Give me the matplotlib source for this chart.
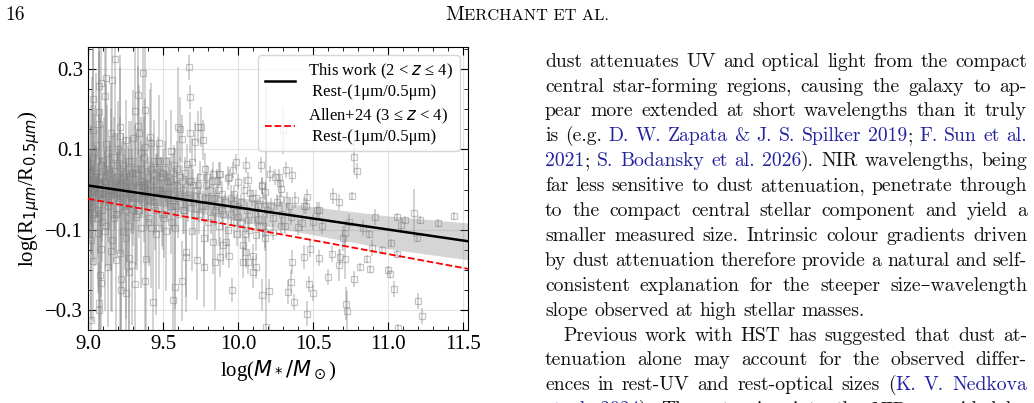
import matplotlib
matplotlib.use("Agg")
import matplotlib.pyplot as plt
from matplotlib.ticker import MultipleLocator, FixedLocator

# ---- galaxies: stellar mass, size ratio, error ----
mass = [9.01, 9.02, 9.02, 9.03, 9.03, 9.03, 9.02, 9.02, 9.04, 9.04, 9.05, 9.05, 9.06, 9.064, 9.07,
        9.075, 9.075, 9.075, 9.075, 9.075, 9.08, 9.086, 9.086, 9.086, 9.09, 9.09, 9.10, 9.10,
        9.11, 9.115, 9.12, 9.12, 9.12, 9.13, 9.13, 9.14, 9.15, 9.152, 9.16, 9.163, 9.16, 9.17, 9.17,
        9.18, 9.185, 9.19, 9.19, 9.20,
        9.21, 9.21, 9.21, 9.22, 9.22, 9.22, 9.23, 9.23, 9.24, 9.25, 9.25, 9.25, 9.26, 9.27, 9.27,
        9.27, 9.28, 9.29, 9.296, 9.30, 9.30,
        9.31, 9.31, 9.32, 9.33, 9.33, 9.34, 9.34, 9.35, 9.35, 9.36, 9.366, 9.37, 9.38, 9.38, 9.385,
        9.38, 9.39, 9.39, 9.40,
        9.41, 9.42, 9.42, 9.43, 9.43, 9.44, 9.44, 9.455, 9.46, 9.47, 9.47, 9.48, 9.49, 9.50,
        9.52, 9.52, 9.53, 9.54, 9.55, 9.56, 9.565, 9.57, 9.578, 9.58, 9.59, 9.60, 9.60,
        9.61, 9.627, 9.627, 9.63, 9.64, 9.65, 9.653, 9.66, 9.67, 9.675, 9.68, 9.68, 9.69, 9.69, 9.70,
        9.71, 9.726, 9.73, 9.73, 9.74, 9.755, 9.768, 9.77, 9.77, 9.78, 9.78, 9.79, 9.80,
        9.81, 9.83, 9.83, 9.846, 9.85, 9.86, 9.874, 9.88, 9.88, 9.89, 9.90, 9.90,
        9.92, 9.93, 9.94, 9.94, 9.95, 9.96, 9.966, 9.966, 9.97, 9.985, 9.99, 10.0, 10.0,
        10.03, 10.03, 10.044, 10.05, 10.05, 10.066, 10.066, 10.066, 10.08, 10.1, 10.1,
        10.117, 10.117, 10.117, 10.13, 10.15, 10.157, 10.16, 10.16, 10.166, 10.166, 10.177, 10.18,
        10.18, 10.187,
        10.205, 10.21, 10.22, 10.23, 10.245, 10.27, 10.275, 10.275, 10.287, 10.287, 10.3,
        10.315, 10.325, 10.33, 10.35, 10.35, 10.36, 10.36, 10.37, 10.38, 10.40,
        10.426, 10.44, 10.44, 10.45, 10.46, 10.46, 10.47, 10.475, 10.5, 10.5,
        10.525, 10.536, 10.536, 10.56, 10.6, 10.625, 10.634, 10.67, 10.67, 10.68,
        10.70, 10.71, 10.71, 10.72, 10.725, 10.735, 10.76, 10.77, 10.77, 10.79, 10.81, 10.83, 10.86,
        10.87, 10.875, 10.89,
        10.91, 10.955, 10.995, 11.01, 11.02, 11.04, 11.055, 11.055, 11.065, 11.085, 11.11, 11.17,
        11.19, 11.195, 11.21, 11.225, 11.33, 11.44]
ratio = [0.02, -0.04, 0.06, 0.225, 0.147, -0.179, -0.126, -0.325, 0.0, 0.09, -0.02, 0.04, -0.07, -0.109, 0.01,
         0.192, 0.163, 0.257, -0.30, -0.283, -0.213, -0.149, -0.233, 0.265, 0.03, -0.05, 0.07, -0.01,
         0.234, -0.103, 0.277, 0.114, 0.02, -0.192, -0.03, 0.05, 0.142, -0.153, 0.273, -0.126, 0.0, -0.06, 0.08,
         0.326, -0.175, 0.03, -0.02, 0.10,
         0.155, 0.134, -0.159, -0.223, -0.25, 0.01, -0.103, 0.06, -0.04, 0.124, -0.122, -0.258, 0.02, -0.171, -0.205,
         0.07, -0.01, 0.04, -0.188, 0.128, -0.05,
         0.196, -0.236, -0.068, 0.235, 0.157, 0.141, 0.01, -0.095, 0.05, -0.02, 0.289, 0.08, 0.198, 0.105, -0.173,
         -0.229, 0.0, -0.04, 0.03,
         0.13, 0.116, -0.095, -0.281, 0.02, 0.072, -0.03, -0.112, 0.05, 0.115, -0.097, 0.0, -0.06, 0.04,
         0.072, -0.103, -0.01, 0.03, 0.097, -0.04, -0.275, 0.01, -0.097, -0.244, 0.05, 0.155, -0.02,
         0.151, 0.126, -0.228, 0.0, -0.05, -0.155, -0.167, 0.064, 0.02, 0.304, 0.231, 0.142, 0.068, -0.103, -0.03,
         0.119, -0.175, 0.155, 0.01, -0.06, 0.155, 0.124, -0.122, -0.192, 0.05, -0.02, 0.03, -0.08,
         0.0, 0.039, -0.13, -0.18, -0.04, 0.02, 0.039, -0.168, 0.039, -0.01, -0.139, -0.06,
         -0.131, 0.029, 0.031, -0.166, -0.02, -0.251, 0.049, -0.035, -0.08, 0.068, -0.11, 0.018, -0.069,
         -0.18, -0.139, -0.11, 0.062, -0.156, 0.024, -0.075, -0.18, -0.009, -0.205, -0.166,
         -0.02, -0.114, -0.193, -0.073, 0.062, 0.01, 0.008, -0.263, -0.092, -0.026, -0.007, -0.122,
         -0.106, -0.342,
         -0.253, 0.039, -0.04, -0.106, 0.031, 0.032, 0.016, -0.023, 0.002, -0.092, 0.149,
         0.049, -0.026, -0.255, -0.069, -0.23, 0.035, -0.18, -0.28, -0.027, -0.094,
         -0.084, -0.041, -0.168, -0.042, -0.019, -0.309, -0.236, -0.147, -0.081, -0.259,
         -0.052, -0.05, -0.17, -0.092, -0.218, -0.16, -0.017, -0.031, -0.189, -0.168,
         -0.122, -0.108, -0.172, -0.284, -0.302, -0.081, -0.017, 0.08, -0.224, 0.046, -0.193, -0.095, -0.174,
         -0.11, -0.199, -0.145,
         -0.069, -0.15, -0.201, -0.211, -0.133, -0.247, -0.069, -0.161, -0.346, -0.089, -0.077, -0.059,
         -0.12, -0.278, -0.077, -0.315, -0.084, -0.067]
ratio_err = [0.08, 0.12, 0.15, 0.2, 0.25, 0.15, 0.2, 0.2, 0.06, 0.1, 0.05, 0.07, 0.1, 0.15, 0.04,
             0.15, 0.2, 0.25, 0.25, 0.1, 0.15, 0.12, 0.2, 0.2, 0.05, 0.08, 0.09, 0.03,
             0.2, 0.2, 0.25, 0.15, 0.06, 0.15, 0.07, 0.08, 0.12, 0.15, 0.3, 0.18, 0.05, 0.09, 0.1,
             0.22, 0.2, 0.06, 0.04, 0.12,
             0.15, 0.2, 0.2, 0.25, 0.2, 0.05, 0.15, 0.08, 0.07, 0.1, 0.2, 0.2, 0.04, 0.18, 0.2,
             0.1, 0.05, 0.06, 0.15, 0.12, 0.09,
             0.25, 0.2, 0.12, 0.15, 0.15, 0.12, 0.05, 0.15, 0.07, 0.04, 0.3, 0.1, 0.2, 0.12, 0.2,
             0.25, 0.05, 0.06, 0.05,
             0.12, 0.15, 0.15, 0.2, 0.05, 0.1, 0.06, 0.2, 0.06, 0.12, 0.15, 0.04, 0.08, 0.06,
             0.1, 0.15, 0.05, 0.05, 0.1, 0.06, 0.25, 0.04, 0.2, 0.2, 0.07, 0.15, 0.04,
             0.08, 0.06, 0.1, 0.04, 0.06, 0.15, 0.1, 0.05, 0.04, 0.03, 0.03, 0.05, 0.06, 0.1, 0.04,
             0.05, 0.1, 0.04, 0.03, 0.05, 0.05, 0.05, 0.08, 0.1, 0.04, 0.03, 0.03, 0.05,
             0.03, 0.03, 0.08, 0.12, 0.04, 0.03, 0.03, 0.05, 0.03, 0.03, 0.05, 0.04,
             0.04, 0.03, 0.02, 0.03, 0.03, 0.03, 0.02, 0.03, 0.04, 0.02, 0.03, 0.02, 0.03,
             0.04, 0.05, 0.04, 0.02, 0.04, 0.02, 0.03, 0.03, 0.02, 0.04, 0.03,
             0.02, 0.04, 0.03, 0.03, 0.02, 0.02, 0.02, 0.04, 0.03, 0.02, 0.02, 0.03,
             0.04, 0.6,
             0.03, 0.02, 0.02, 0.02, 0.02, 0.02, 0.02, 0.02, 0.02, 0.02, 0.06,
             0.02, 0.02, 0.03, 0.02, 0.03, 0.02, 0.03, 0.02, 0.02, 0.02,
             0.02, 0.02, 0.03, 0.02, 0.02, 0.03, 0.02, 0.02, 0.02, 0.02,
             0.02, 0.02, 0.02, 0.02, 0.02, 0.02, 0.02, 0.02, 0.04, 0.02,
             0.03, 0.03, 0.05, 0.04, 0.05, 0.02, 0.01, 0.04, 0.02, 0.02, 0.01, 0.02, 0.01,
             0.01, 0.01, 0.02,
             0.02, 0.01, 0.01, 0.01, 0.01, 0.02, 0.01, 0.01, 0.01, 0.02, 0.01, 0.06,
             0.01, 0.02, 0.01, 0.02, 0.01, 0.01]

# dense low-mass cloud around the relation
cloud_mass = [9.005, 9.015, 9.025, 9.035, 9.045, 9.055, 9.065, 9.085, 9.095, 9.105, 9.125, 9.135,
              9.145, 9.155, 9.175, 9.195, 9.205, 9.215, 9.235, 9.245, 9.255, 9.265, 9.275, 9.285,
              9.305, 9.315, 9.325, 9.345, 9.355, 9.375, 9.395, 9.405, 9.415, 9.435, 9.445, 9.465,
              9.485, 9.495, 9.505, 9.515, 9.535, 9.545, 9.555, 9.575, 9.585, 9.595, 9.615, 9.635,
              9.645, 9.665, 9.685, 9.705, 9.725, 9.745, 9.765, 9.785, 9.805, 9.825, 9.845, 9.865,
              9.008, 9.018, 9.028, 9.048, 9.058, 9.068, 9.078, 9.098, 9.108, 9.118, 9.138, 9.148,
              9.168, 9.178, 9.188, 9.198, 9.228, 9.238, 9.258, 9.268, 9.288, 9.298, 9.318, 9.338,
              9.358, 9.378, 9.398, 9.418, 9.438, 9.458, 9.478, 9.498, 9.528, 9.548, 9.568, 9.598,
              9.628, 9.658, 9.698, 9.738,
              9.82, 9.84, 9.87, 9.89, 9.91, 9.93, 9.95, 9.97, 9.99, 10.01, 10.02, 10.04, 10.06,
              10.07, 10.09, 10.11, 10.13, 10.14, 10.19, 10.23, 10.26, 10.29, 10.31, 10.34]
cloud_ratio = [0.05, -0.02, 0.08, -0.06, 0.03, 0.11, -0.01, 0.06, -0.08, 0.02, 0.09, -0.04,
               0.04, 0.00, -0.07, 0.06, -0.03, 0.08, 0.01, -0.05, 0.04, -0.09, 0.03, 0.07,
               -0.02, 0.05, -0.06, 0.02, 0.09, -0.03, 0.06, -0.07, 0.01, 0.04, -0.05, 0.07,
               -0.01, 0.03, -0.06, 0.05, -0.02, 0.02, -0.08, 0.06, -0.04, 0.01, 0.03, -0.05,
               0.04, -0.03, 0.02, -0.06, 0.00, 0.03, -0.04, 0.01, -0.02, 0.02, -0.05, 0.0,
               -0.03, 0.04, -0.07, 0.01, 0.07, -0.05, 0.03, -0.02, 0.05, -0.09, 0.00, -0.04,
               0.06, 0.02, -0.06, 0.04, -0.02, 0.03, -0.07, 0.05, 0.01, -0.03, 0.04, -0.05,
               0.02, -0.01, -0.08, 0.05, -0.04, 0.00, 0.03, -0.07, 0.02, -0.04, 0.04, -0.06,
               0.02, -0.02, 0.01, -0.04,
               -0.07, -0.02, -0.09, -0.05, -0.03, -0.10, -0.06, -0.01, -0.04, -0.08, -0.03, 0.00,
               -0.05, -0.10, -0.02, -0.06, -0.04, -0.09, -0.05, -0.07, -0.03, -0.06, -0.09, -0.04]
cloud_err = [0.15, 0.1, 0.2, 0.12, 0.08, 0.18, 0.06, 0.14, 0.1, 0.05, 0.12, 0.09,
             0.07, 0.2, 0.11, 0.08, 0.13, 0.1, 0.06, 0.15, 0.09, 0.12, 0.07, 0.1,
             0.08, 0.11, 0.14, 0.06, 0.09, 0.1, 0.07, 0.12, 0.05, 0.08, 0.1, 0.06,
             0.09, 0.05, 0.11, 0.07, 0.06, 0.05, 0.08, 0.05, 0.06, 0.04, 0.05, 0.06,
             0.04, 0.05, 0.04, 0.05, 0.03, 0.04, 0.04, 0.03, 0.03, 0.03, 0.04, 0.03,
             0.1, 0.12, 0.09, 0.2, 0.08, 0.11, 0.15, 0.07, 0.13, 0.1, 0.09, 0.16,
             0.08, 0.12, 0.1, 0.07, 0.14, 0.09, 0.11, 0.06, 0.12, 0.08, 0.1, 0.07,
             0.09, 0.06, 0.1, 0.08, 0.07, 0.09, 0.05, 0.08, 0.06, 0.07, 0.05, 0.06,
             0.04, 0.05, 0.04, 0.04,
             0.04, 0.03, 0.05, 0.03, 0.02, 0.04, 0.03, 0.02, 0.03, 0.04, 0.02, 0.03,
             0.02, 0.03, 0.02, 0.03, 0.02, 0.03, 0.02, 0.02, 0.02, 0.03, 0.02, 0.02]

# fitted relations and 1-sigma band of this work
fit_mass = [9.0, 11.55]
this_work_fit = [0.010, -0.130]
allen_fit = [-0.023, -0.199]
band_mass = [9.0, 9.5, 10.0, 10.5, 11.0, 11.55]
band_hi = [0.032, 0.006, -0.020, -0.043, -0.066, -0.084]
band_lo = [-0.012, -0.042, -0.078, -0.113, -0.148, -0.176]

xticks = [9.0, 9.5, 10.0, 10.5, 11.0, 11.5]
yticks = [-0.3, -0.1, 0.1, 0.3]

plt.rcParams['font.family'] = ['Liberation Serif', 'DejaVu Serif']
plt.rcParams['mathtext.fontset'] = 'dejavusans'

W, H = 1034, 403
fig = plt.figure(figsize=(W / 100, H / 100), dpi=100)
ax = fig.add_axes([88 / W, 1 - 330 / H, 380 / W, 283 / H])

ax.errorbar(mass + cloud_mass, ratio + cloud_ratio, yerr=ratio_err + cloud_err, fmt='s',
            ms=5, mfc='none', mec='grey', mew=0.9, ecolor='grey', elinewidth=1.1,
            alpha=0.45, capsize=0, zorder=1)
ax.fill_between(band_mass, band_lo, band_hi, color='grey', alpha=0.33, lw=0, zorder=2)
ax.plot(fit_mass, this_work_fit, color='black', lw=1.8, zorder=3,
        label='This work (2 < $z$ ≤ 4)\n Rest-(1μm/0.5μm)')
ax.plot(fit_mass, allen_fit, color='red', ls='--', lw=1.3, zorder=3,
        label='Allen+24 (3 ≤ $z$ < 4)\n Rest-(1μm/0.5μm)')

ax.set_xlim(9.0, 11.53)
ax.set_ylim(-0.35, 0.355)
ax.xaxis.set_major_locator(FixedLocator(xticks))
ax.xaxis.set_minor_locator(MultipleLocator(0.1))
ax.yaxis.set_major_locator(FixedLocator(yticks))
ax.yaxis.set_minor_locator(MultipleLocator(0.05))
ax.set_xticklabels(['%.1f' % v for v in xticks])
ax.set_yticklabels(['%.1f' % v if v > 0 else '\u2212%.1f' % abs(v) for v in yticks])
ax.tick_params(which='both', direction='in', top=True, right=True, labelsize=15)
ax.tick_params(which='major', length=6)
ax.tick_params(which='minor', length=3)
ax.grid(True, which='major', color='lightgrey', alpha=0.6, lw=0.8)
ax.set_axisbelow(True)
ax.set_xlabel(r'log($M_*/M_\odot$)', fontsize=15, labelpad=3)
ax.set_ylabel(r'log(R$_{1\mu m}$/R$_{0.5\mu m}$)', fontsize=15, labelpad=2)
ax.legend(loc='upper right', fontsize=12, handlelength=1.8, labelspacing=0.45)

# ---- page around the figure ----
renderer = fig.canvas.get_renderer()
BODY = ['cmr10', 'DejaVu Serif']
BLUE = '#22229e'
SIZE = 14.2


def width(t):
    return t.get_window_extent(renderer).width


fig.text(5 / W, 1 - 20 / H, '16', family=BODY, fontsize=14, va='baseline')
x = 445
for txt, size in [('M', 14.8), ('ERCHANT ET AL.', 11.8)]:
    t = fig.text(x / W, 1 - 20 / H, txt, family=BODY, fontsize=size, va='baseline')
    x += width(t)

body = [
    "dust attenuates UV and optical light from the compact",
    "central star-forming regions, causing the galaxy to ap-",
    "pear more extended at short wavelengths than it truly",
    "is (e.g. {D. W. Zapata & J. S. Spilker 2019}; {F. Sun et al.}",
    "{2021}; {S. Bodansky et al. 2026}). NIR wavelengths, being",
    "far less sensitive to dust attenuation, penetrate through",
    "to the compact central stellar component and yield a",
    "smaller measured size. Intrinsic colour gradients driven",
    "by dust attenuation therefore provide a natural and self-",
    "consistent explanation for the steeper size\u2013wavelength",
    "slope observed at high stellar masses.",
    "Previous work with HST has suggested that dust at-",
    "tenuation alone may account for the observed differ-",
    "ences in rest-UV and rest-optical sizes ({K. V. Nedkova}",
    "{et al. 2024}). The extension into the NIR, provided by",
]
ragged = {10}
indented = {11}
left, right = 545, 1027
space = 0.333 * SIZE * 100 / 72
for i, line in enumerate(body):
    # split into words, each word a list of (text, is_blue) pieces
    words, cur, piece, blue = [], [], '', False
    for ch in line + ' ':
        if ch in '{} ':
            if piece:
                cur.append((piece, blue))
                piece = ''
            if ch == ' ':
                if cur:
                    words.append(cur)
                cur = []
            else:
                blue = ch == '{'
        else:
            piece += ch
    y = 1 - (66.7 + 24.9 * i) / H
    arts = []
    for w in words:
        ts = [fig.text(0, y, p, family=BODY, fontsize=SIZE, va='baseline',
                       color=BLUE if b else '#111111') for p, b in w]
        arts.append((ts, [width(t) for t in ts]))
    x0 = left + (18 if i in indented else 0)
    total = sum(sum(ws) for _, ws in arts)
    gap = space if i in ragged else (right - x0 - total) / (len(arts) - 1)
    x = x0
    for ts, ws in arts:
        for t, wd in zip(ts, ws):
            t.set_x(x / W)
            x += wd
        x += gap

fig.savefig('out.png', dpi=100)
